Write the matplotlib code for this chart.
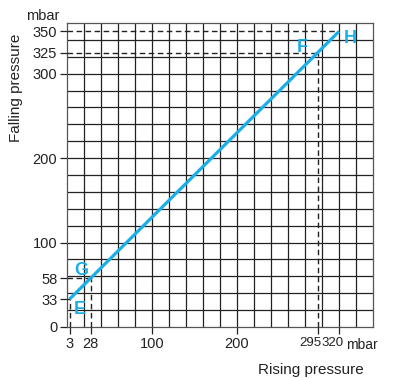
import numpy as np
import matplotlib
matplotlib.use("Agg")
import matplotlib.pyplot as plt
from matplotlib.transforms import ScaledTranslation

plt.rcParams['font.family'] = ['Liberation Sans', 'DejaVu Sans']

# switching points (rising, falling) in mbar
labels = ["E", "G", "F", "H"]
rising = [3, 28, 295, 320]
falling = [33, 58, 325, 350]

xticks = [3, 28, 100, 200, 295, 320]
yticks = [0, 33, 58, 100, 200, 300, 325, 350]
blue = "#1aaee8"
ink = '#222222'

W, H = 398, 378
fig = plt.figure(figsize=(W / 100, H / 100), dpi=100)
ax = fig.add_axes([67 / W, 1 - 327 / H, (373 - 67) / W, (327 - 23) / H])

ax.set_xlim(0, 360)
ax.set_ylim(0, 360)

# grid every 20 mbar
for v in np.arange(20, 360, 20):
    ax.axvline(v, color=ink, lw=0.9, zorder=1)
    ax.axhline(v, color=ink, lw=0.9, zorder=1)

ax.set_xticks(xticks)
ax.set_yticks(yticks)
ax.set_xticklabels([str(v) for v in xticks])
ax.set_yticklabels([str(v) for v in yticks])
ax.tick_params(length=5, width=0.9, color=ink, labelsize=10.5, labelcolor=ink, pad=2)

# the two crowded labels at the right are pulled left
xl = ax.get_xticklabels()
for lab, dx in [(xl[4], -7), (xl[5], -6.5)]:
    lab.set_fontsize(9.5)
    lab.set_transform(lab.get_transform() + ScaledTranslation(dx / 100, 0, fig.dpi_scale_trans))

for s in ax.spines.values():
    s.set_color('#555555')
    s.set_linewidth(0.9)

# dashed guide lines
for x, y in zip(rising, falling):
    ax.plot([0, x], [y, y], color=ink, lw=1.0, ls=(0, (4, 2.5)), clip_on=False, zorder=3)
for x, y in zip(rising[:3], falling[:3]):
    ax.plot([x, x], [0, y], color=ink, lw=1.0, ls=(0, (4, 2.5)), clip_on=False, zorder=3)

# characteristic line
ax.plot([rising[0], rising[-1]], [falling[0], falling[-1]], color=blue, lw=2.3,
        solid_capstyle='butt', zorder=4)

label_pos = {"E": (15, 21), "G": (17, 67), "F": (277, 331), "H": (333, 342)}
for lab in labels:
    px, py = label_pos[lab]
    ax.text(px, py, lab, color=blue, fontsize=13, fontweight='bold',
            ha='center', va='center', zorder=5)

fig.text(43 / W, 1 - 16 / H, "mbar", fontsize=10.5, color=ink, ha='center', va='center')
fig.text(346.5 / W, 1 - 345 / H, "mbar", fontsize=10, color=ink, ha='left', va='center')
fig.text(16 / W, 1 - 88 / H, "Falling pressure", fontsize=11, color=ink,
         rotation=90, ha='center', va='center')
fig.text(311 / W, 1 - 370 / H, "Rising pressure", fontsize=11, color=ink,
         ha='center', va='center')

fig.savefig("out.png", dpi=100)
